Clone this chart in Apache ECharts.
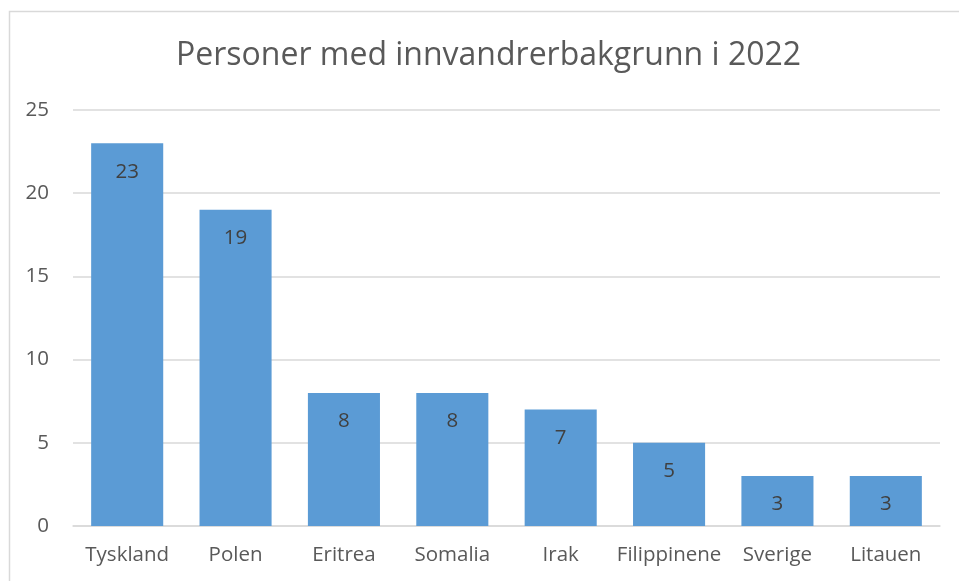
<!DOCTYPE html>
<html>
<head>
<meta charset="utf-8">
<script src="https://cdn.jsdelivr.net/npm/echarts@6/dist/echarts.min.js"></script>
<style>
  html, body { margin: 0; padding: 0; background: #fff; }
  #chart { width: 959px; height: 581px; }
</style>
</head>
<body>
<div id="chart"></div>
<script>
// land og antall personer
const countries = ['Tyskland', 'Polen', 'Eritrea', 'Somalia', 'Irak', 'Filippinene', 'Sverige', 'Litauen']
const persons = [23, 19, 8, 8, 7, 5, 3, 3]
const yTicks = [0, 5, 10, 15, 20, 25]

const chart = echarts.init(document.getElementById('chart'))

chart.setOption({
  animation: false,
  textStyle: { fontFamily: 'Open Sans' },
  title: {
    text: 'Personer med innvandrerbakgrunn i 2022',
    left: 176,
    top: 40,
    padding: 0,
    textStyle: { fontSize: 32, fontWeight: 'normal', color: '#595959', fontFamily: 'Open Sans' }
  },
  // ramme rundt diagrammet (bare topp og venstre synlig)
  graphic: [
    {
      type: 'rect',
      shape: { x: 9.5, y: 11.5, width: 1000, height: 1000 },
      style: { fill: 'none', stroke: '#d9d9d9', lineWidth: 1.5 }
    }
  ],
  grid: { left: 73, right: 19, top: 110, bottom: 55 },
  xAxis: {
    type: 'category',
    data: countries,
    axisTick: { show: false },
    axisLine: { lineStyle: { color: '#d9d9d9', width: 1.5 } },
    axisLabel: { color: '#595959', fontSize: 20.5, margin: 19, interval: 0 }
  },
  yAxis: {
    type: 'value',
    min: yTicks[0],
    max: yTicks[yTicks.length - 1],
    interval: 5,
    axisLine: { show: false },
    axisTick: { show: false },
    splitLine: { lineStyle: { color: '#d9d9d9', width: 1.5 } },
    axisLabel: { color: '#595959', fontSize: 20.5, margin: 24 }
  },
  series: [
    {
      type: 'bar',
      data: persons,
      barCategoryGap: '33.5%',
      itemStyle: { color: '#5b9bd5' },
      label: {
        show: true,
        position: 'insideTop',
        distance: 18,
        color: '#404040',
        fontSize: 20.5
      }
    }
  ]
})
</script>
</body>
</html>
